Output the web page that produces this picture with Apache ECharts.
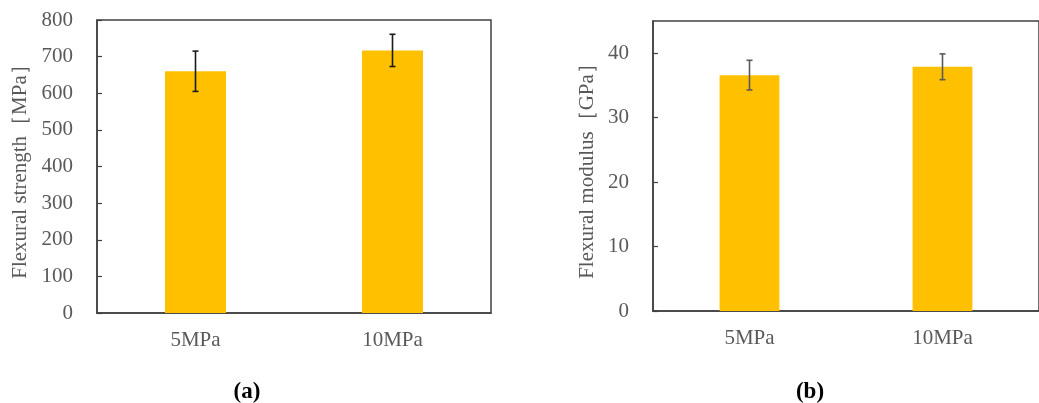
<!DOCTYPE html>
<html>
<head>
<meta charset="utf-8">
<script src="https://cdn.jsdelivr.net/npm/echarts@6/dist/echarts.min.js"></script>
<style>
  html, body { margin: 0; padding: 0; background: #fff; }
  #main { width: 1039px; height: 403px; }
</style>
</head>
<body>
<div id="main"></div>
<script>
  // data
  var categories = ['5MPa', '10MPa'];
  var strengthMean = [660, 717];
  var strengthErr = [55, 44];
  var modulusMean = [36.6, 37.9];
  var modulusErr = [2.3, 2.0];

  var labelFont = 'Liberation Serif';
  var gray = '#595959';
  var frame = '#404040';

  function errData(mean, err) {
    return mean.map(function (m, i) {
      return [i, m - err[i], m + err[i]];
    });
  }

  function errRenderer(color) {
    return function (params, api) {
      var x = api.value(0);
      var lo = api.coord([x, api.value(1)]);
      var hi = api.coord([x, api.value(2)]);
      var half = 3;
      var style = { stroke: color, lineWidth: 1.6 };
      return {
        type: 'group',
        children: [
          { type: 'line', shape: { x1: lo[0], y1: lo[1], x2: hi[0], y2: hi[1] }, style: style },
          { type: 'line', shape: { x1: hi[0] - half, y1: hi[1], x2: hi[0] + half, y2: hi[1] }, style: style },
          { type: 'line', shape: { x1: lo[0] - half, y1: lo[1], x2: lo[0] + half, y2: lo[1] }, style: style }
        ]
      };
    };
  }

  function xAxisFor(idx) {
    return {
      type: 'category',
      gridIndex: idx,
      data: categories,
      axisLine: { show: true, lineStyle: { color: frame, width: 1.5 } },
      axisTick: { show: false },
      axisLabel: { color: gray, fontFamily: labelFont, fontSize: 21, margin: 17 }
    };
  }

  function yAxisFor(idx, max, interval, name, gap) {
    return {
      type: 'value',
      gridIndex: idx,
      min: 0,
      max: max,
      interval: interval,
      name: name,
      nameLocation: 'middle',
      nameGap: gap,
      nameTextStyle: { color: gray, fontFamily: labelFont, fontSize: 21 },
      splitLine: { show: false },
      axisLine: { show: true, lineStyle: { color: frame, width: 1.5 } },
      axisTick: { show: true, inside: true, length: 5, lineStyle: { color: frame, width: 1.2 } },
      axisLabel: { color: gray, fontFamily: labelFont, fontSize: 21, margin: 24, showMaxLabel: max % interval === 0 }
    };
  }

  var chart = echarts.init(document.getElementById('main'));
  chart.setOption({
    animation: false,
    title: [
      { text: '(a)', left: 242, top: 376, textAlign: 'center',
        textStyle: { fontFamily: 'Liberation Serif', fontWeight: 'bold', fontSize: 23, color: '#000' } },
      { text: '(b)', left: 805, top: 376, textAlign: 'center',
        textStyle: { fontFamily: 'Liberation Serif', fontWeight: 'bold', fontSize: 23, color: '#000' } }
    ],
    grid: [
      { left: 97, top: 20, width: 394, height: 293, show: true, borderColor: frame, borderWidth: 1.5 },
      { left: 653, top: 21, width: 395, height: 290, show: true, borderColor: frame, borderWidth: 1.5 }
    ],
    xAxis: [xAxisFor(0), xAxisFor(1)],
    yAxis: [
      yAxisFor(0, 800, 100, 'Flexural strength［MPa］', 66),
      yAxisFor(1, 45, 10, 'Flexural modulus［GPa］', 55)
    ],
    series: [
      { type: 'bar', xAxisIndex: 0, yAxisIndex: 0, data: strengthMean, barWidth: '31%',
        itemStyle: { color: '#FFC000' } },
      { type: 'bar', xAxisIndex: 1, yAxisIndex: 1, data: modulusMean, barWidth: '31%',
        itemStyle: { color: '#FFC000' } },
      { type: 'custom', xAxisIndex: 0, yAxisIndex: 0, data: errData(strengthMean, strengthErr),
        renderItem: errRenderer('#1a1a1a'), z: 5 },
      { type: 'custom', xAxisIndex: 1, yAxisIndex: 1, data: errData(modulusMean, modulusErr),
        renderItem: errRenderer('#5a5a5a'), z: 5 }
    ]
  });
</script>
</body>
</html>
